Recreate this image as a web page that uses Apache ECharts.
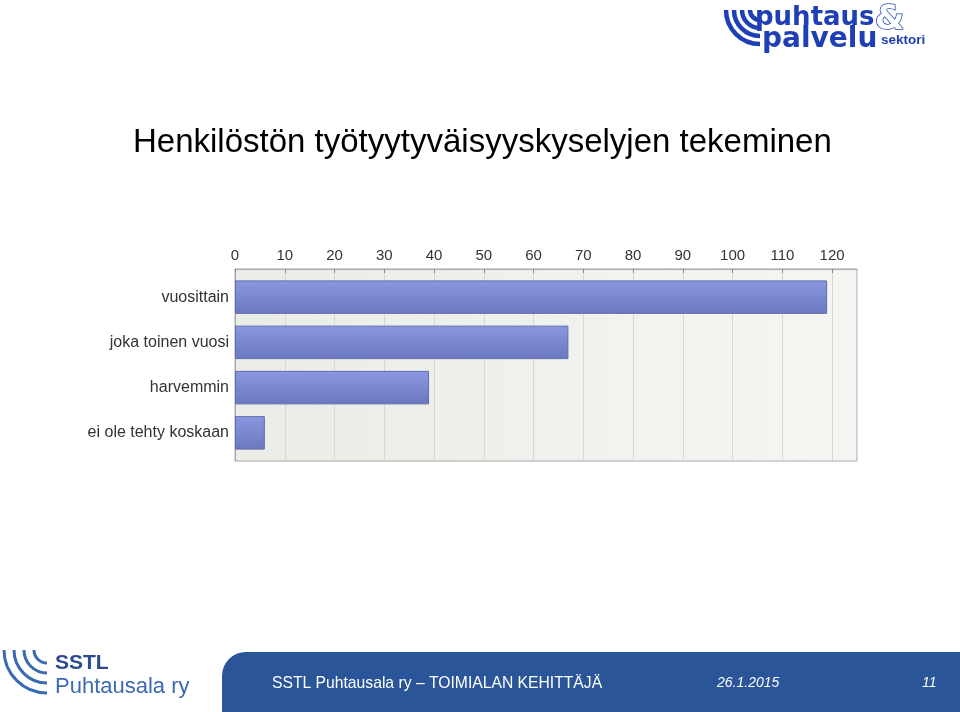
<!DOCTYPE html>
<html><head><meta charset="utf-8">
<script src="https://cdn.jsdelivr.net/npm/echarts@6/dist/echarts.min.js"></script>
<style>html,body{margin:0;padding:0;background:#fff}#c{width:960px;height:712px}</style>
</head><body><div id="c"></div>
<script>
const categories = ['vuosittain', 'joka toinen vuosi', 'harvemmin', 'ei ole tehty koskaan'];
const values = [119, 67, 39, 6];
const titleText = 'Henkilöstön työtyytyväisyyskyselyjen tekeminen';
const footerText = 'SSTL Puhtausala ry – TOIMIALAN KEHITTÄJÄ';
const dateText = '26.1.2015';
const pageText = '11';

const chart = echarts.init(document.getElementById('c'), null, {renderer: 'canvas'});
const FF = '"Liberation Sans", Arial, sans-serif';
const blue = '#1f3fb5';
const sstlDark = '#2b4b8e';
const sstlBlue = '#3b69b2';
function arcs(cx, cy, radii, color, w, s, e) {
  return radii.map(r => ({type: 'arc', shape: {cx: cx, cy: cy, r: r, startAngle: s, endAngle: e, clockwise: true},
    style: {stroke: color, lineWidth: w, fill: null}, z: 10}));
}
chart.setOption({
  backgroundColor: '#fff',
  animation: false,
  title: {text: titleText, left: 128, top: 121,
    textStyle: {fontFamily: FF, fontSize: 33, fontWeight: 'normal', color: '#000'}},
  grid: [
    {left: 235, top: 269, width: 622, height: 192, show: true, borderColor: '#a8a8a8', borderWidth: 1,
      backgroundColor: {type: 'linear', x: 0, y: 0, x2: 1, y2: 0,
        colorStops: [{offset: 0, color: '#e9ede5'}, {offset: 1, color: '#f5f6f3'}]}},
    {left: 235, top: 274.5, width: 622, height: 181}
  ],
  xAxis: [
    {type: 'value', gridIndex: 0, position: 'top', min: 0, max: 125, interval: 10,
      axisLine: {show: true, onZero: false, lineStyle: {color: '#a8a8a8'}},
      axisTick: {show: true, inside: true, length: 4, lineStyle: {color: '#888'}},
      axisLabel: {showMaxLabel: false, color: '#333', fontSize: 15, margin: 6, fontFamily: FF,
        formatter: v => (v % 10 === 0 ? String(v) : '')},
      splitLine: {show: true, lineStyle: {color: '#d6d8d4'}}},
    {type: 'value', gridIndex: 1, position: 'top', min: 0, max: 125, interval: 10, show: false,
      axisLine: {show: false, onZero: false}, axisTick: {show: false}, axisLabel: {show: false}, splitLine: {show: false}}
  ],
  yAxis: [
    {type: 'value', gridIndex: 0, min: 0, max: 1, axisLine: {show: true, onZero: false, lineStyle: {color: '#a8a8a8'}},
      axisLabel: {show: false}, axisTick: {show: false}, splitLine: {show: false}},
    {type: 'category', gridIndex: 1, data: categories, inverse: true,
      axisLine: {show: false}, axisTick: {show: false},
      axisLabel: {color: '#333', fontSize: 16, margin: 6, fontFamily: FF}}
  ],
  series: [{type: 'bar', xAxisIndex: 1, yAxisIndex: 1, data: values, barCategoryGap: '26%',
    itemStyle: {borderColor: '#5f6bab', borderWidth: 1,
      color: {type: 'linear', x: 0, y: 0, x2: 0, y2: 1,
        colorStops: [{offset: 0, color: '#8b97e0'}, {offset: 1, color: '#6b78c0'}]}}}],
  graphic: [
    // footer band
    {type: 'rect', shape: {x: 222, y: 652, width: 760, height: 80, r: [24, 0, 0, 0]}, style: {fill: '#2a5599'}, z: 5},
    {type: 'text', left: 272, top: 676, style: {text: footerText, fill: '#fff', font: '15.7px "Liberation Sans", Arial'}, z: 6},
    {type: 'text', left: 717, top: 676, style: {text: dateText, fill: '#fff', font: 'italic 14px "Liberation Sans", Arial'}, z: 6},
    {type: 'text', left: 922, top: 676, style: {text: pageText, fill: '#fff', font: 'italic 14px "Liberation Sans", Arial'}, z: 6},
    // SSTL logo
    ...arcs(47, 650, [13, 23, 33, 43], sstlBlue, 3, Math.PI / 2, Math.PI),
    {type: 'text', left: 55, top: 653, style: {text: 'SSTL', fill: sstlDark, font: 'bold 21px "Liberation Sans", Arial'}, z: 10},
    {type: 'text', left: 55, top: 676, style: {text: 'Puhtausala ry', fill: sstlBlue, font: '22px "Liberation Sans", Arial'}, z: 10},
    // puhtaus & palvelu logo
    ...arcs(760, 10, [10, 18, 26, 34], blue, 4.5, Math.PI / 2, Math.PI),
    {type: 'text', left: 755, top: 5, style: {text: 'puhtaus', fill: blue, font: 'bold 26px "DejaVu Sans", Arial'}, z: 10},
    {type: 'text', left: 874, top: 2, style: {text: '&', fill: '#fff', stroke: blue, lineWidth: 1.5, font: 'bold 34px "DejaVu Sans", Arial'}, z: 10},
    {type: 'text', left: 762, top: 26, style: {text: 'palvelu', fill: blue, font: 'bold 28px "DejaVu Sans", Arial'}, z: 10},
    {type: 'text', left: 881, top: 33, style: {text: 'sektori', fill: blue, font: 'bold 13.5px "Liberation Sans", Arial'}, z: 10}
  ]
});
</script></body></html>
